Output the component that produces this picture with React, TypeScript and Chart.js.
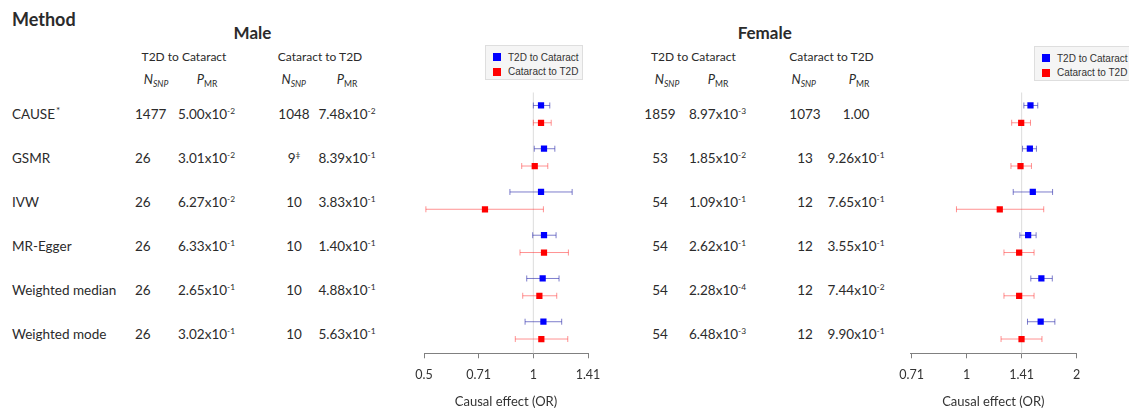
import React, { useEffect, useRef } from 'react';
import { Chart, registerables } from 'chart.js';

Chart.register(...registerables);

const FONT = 'Lato, "Open Sans", sans-serif';
const TEXT = '#2b2b2b';

// ---------- data ----------
const methods = ['CAUSE', 'GSMR', 'IVW', 'MR-Egger', 'Weighted median', 'Weighted mode'];
const methodMarks = ['*', '', '', '', '', ''];

const maleN1 = ['1477', '26', '26', '26', '26', '26'];
const maleP1 = ['5.00x10^-2', '3.01x10^-2', '6.27x10^-2', '6.33x10^-1', '2.65x10^-1', '3.02x10^-1'];
const maleN2 = ['1048', '9^‡', '10', '10', '10', '10'];
const maleP2 = ['7.48x10^-2', '8.39x10^-1', '3.83x10^-1', '1.40x10^-1', '4.88x10^-1', '5.63x10^-1'];

const femaleN1 = ['1859', '53', '54', '54', '54', '54'];
const femaleP1 = ['8.97x10^-3', '1.85x10^-2', '1.09x10^-1', '2.62x10^-1', '2.28x10^-4', '6.48x10^-3'];
const femaleN2 = ['1073', '13', '12', '12', '12', '12'];
const femaleP2 = ['1.00', '9.26x10^-1', '7.65x10^-1', '3.55x10^-1', '7.44x10^-2', '9.90x10^-1'];

const seriesNames = ['T2D to Cataract', 'Cataract to T2D'];

// Male forest values (OR, 95% CI)
const maleBlueEst = [1.05, 1.07, 1.05, 1.07, 1.061, 1.066];
const maleBlueLo = [1.0, 1.006, 0.862, 0.996, 0.959, 0.949];
const maleBlueHi = [1.11, 1.146, 1.279, 1.155, 1.177, 1.197];
const maleRedEst = [1.05, 1.009, 0.736, 1.07, 1.039, 1.052];
const maleRedLo = [1.0, 0.929, 0.506, 0.919, 0.935, 0.892];
const maleRedHi = [1.12, 1.096, 1.066, 1.249, 1.16, 1.244];

// Female forest values
const femaleBlueEst = [1.495, 1.489, 1.517, 1.473, 1.601, 1.594];
const femaleBlueLo = [1.434, 1.422, 1.341, 1.398, 1.498, 1.467];
const femaleBlueHi = [1.565, 1.552, 1.718, 1.549, 1.715, 1.743];
const femaleRedEst = [1.41, 1.404, 1.232, 1.392, 1.392, 1.413];
const femaleRedLo = [1.328, 1.322, 0.938, 1.265, 1.265, 1.242];
const femaleRedHi = [1.495, 1.504, 1.625, 1.529, 1.529, 1.607];

const maleTicks = [0.5, 0.7071, 1, 1.4142];
const femaleTicks = [0.7071, 1, 1.4142, 2];
const maleRef = 1;
const femaleRef = 1.4142;

const axisTitle = 'Causal effect (OR)';

// ---------- helpers ----------
function fmtTick(v: number) {
  return String(Number(v.toFixed(2)));
}

function Sup({ s }: { s: string }) {
  const [m, e] = s.split('^');
  return (
    <>
      {m}
      {e !== undefined && (
        <span style={{ fontSize: '0.62em', position: 'relative', top: '-0.55em' }}>{e}</span>
      )}
    </>
  );
}

type CellProps = { x: number; y: number; align?: 'left' | 'center'; size?: number; bold?: boolean; children: React.ReactNode };
function Cell({ x, y, align = 'left', size = 13.5, bold = false, children }: CellProps) {
  return (
    <div
      style={{
        position: 'absolute',
        left: x,
        top: y,
        transform: align === 'center' ? 'translate(-50%, -50%)' : 'translateY(-50%)',
        fontFamily: FONT,
        fontSize: size,
        fontWeight: bold ? 700 : 400,
        lineHeight: '1.2',
        whiteSpace: 'nowrap',
        color: TEXT,
      }}
    >
      {children}
    </div>
  );
}

const NSNP = () => (
  <>
    <i>N</i>
    <span style={{ fontSize: '0.66em', position: 'relative', top: '0.3em', fontStyle: 'italic' }}>SNP</span>
  </>
);
const PMR = () => (
  <>
    <i>P</i>
    <span style={{ fontSize: '0.66em', position: 'relative', top: '0.3em' }}>MR</span>
  </>
);

const errorBarPlugin = {
  id: 'errorBars',
  beforeDatasetsDraw(chart: any, _args: any, opts: any) {
    const ctx = chart.ctx;
    const xs = chart.scales.x;
    const area = chart.chartArea;
    ctx.save();
    const rx = xs.getPixelForValue(opts.refValue);
    ctx.strokeStyle = '#dcdcdc';
    ctx.lineWidth = 1;
    ctx.beginPath();
    ctx.moveTo(rx, area.top);
    ctx.lineTo(rx, area.bottom);
    ctx.stroke();
    chart.data.datasets.forEach((ds: any, di: number) => {
      const meta = chart.getDatasetMeta(di);
      ctx.strokeStyle = ds.errorColor;
      ctx.lineWidth = 1;
      meta.data.forEach((pt: any, i: number) => {
        const lo = xs.getPixelForValue(ds.lo[i]);
        const hi = xs.getPixelForValue(ds.hi[i]);
        const y = pt.y;
        const c = 3;
        ctx.beginPath();
        ctx.moveTo(lo, y);
        ctx.lineTo(hi, y);
        ctx.moveTo(lo, y - c);
        ctx.lineTo(lo, y + c);
        ctx.moveTo(hi, y - c);
        ctx.lineTo(hi, y + c);
        ctx.stroke();
      });
    });
    ctx.restore();
  },
};

type ForestProps = {
  left: number;
  width: number;
  padLeft: number;
  padRight: number;
  ticks: number[];
  refValue: number;
  blueEst: number[];
  blueLo: number[];
  blueHi: number[];
  redEst: number[];
  redLo: number[];
  redHi: number[];
};

function Forest(p: ForestProps) {
  const ref = useRef<HTMLCanvasElement | null>(null);
  useEffect(() => {
    if (!ref.current) return;
    const mk = (est: number[], lo: number[], hi: number[], color: string, err: string, off: number, label: string) => ({
      label,
      data: est.map((v, i) => ({ x: v, y: i + off })),
      lo,
      hi,
      errorColor: err,
      backgroundColor: color,
      borderColor: color,
      borderWidth: 0,
      pointStyle: 'rect',
      pointRadius: 4.4,
      showLine: false,
    });
    const chart = new Chart(ref.current, {
      type: 'scatter',
      data: {
        datasets: [
          mk(p.blueEst, p.blueLo, p.blueHi, '#0000ff', 'rgba(40,40,170,0.6)', -0.2, seriesNames[0]),
          mk(p.redEst, p.redLo, p.redHi, '#ff0000', 'rgba(255,40,40,0.5)', 0.2, seriesNames[1]),
        ] as any,
      },
      options: {
        animation: false,
        responsive: true,
        maintainAspectRatio: false,
        events: [],
        layout: { padding: { top: 92.5, left: p.padLeft, right: p.padRight, bottom: 0 } },
        plugins: {
          legend: { display: false },
          tooltip: { enabled: false },
          errorBars: { refValue: p.refValue },
        } as any,
        scales: {
          x: {
            type: 'logarithmic',
            min: p.ticks[0],
            max: p.ticks[p.ticks.length - 1],
            afterBuildTicks: (s: any) => {
              s.ticks = p.ticks.map((v) => ({ value: v }));
            },
            grid: { drawOnChartArea: false, drawTicks: true, tickLength: 5, color: '#808080' },
            border: { display: true, color: '#808080', width: 1 },
            ticks: {
              padding: 9.2,
              autoSkip: false,
              maxRotation: 0,
              color: '#333333',
              font: { family: FONT, size: 12.5, lineHeight: 1.2 },
              callback: (v: any) => fmtTick(Number(v)),
            },
            title: {
              display: true,
              text: axisTitle,
              color: '#333333',
              font: { family: FONT, size: 13, lineHeight: 1.2 },
              padding: { top: 2.2, bottom: 1.5 },
            },
          },
          y: {
            type: 'linear',
            display: false,
            reverse: true,
            min: -0.5,
            max: 5.53,
          },
        },
      } as any,
      plugins: [errorBarPlugin as any],
    });
    return () => chart.destroy();
  }, []);
  return (
    <div style={{ position: 'absolute', left: p.left, top: 0, width: p.width, height: 411 }}>
      <canvas ref={ref} />
    </div>
  );
}

function Legend({ left, top, width }: { left: number; top: number; width: number }) {
  const colors = ['#0000ff', '#ff0000'];
  return (
    <div
      style={{
        position: 'absolute',
        left,
        top,
        width,
        height: 35,
        background: '#f5f5f5',
        border: '1px solid #dedede',
        boxSizing: 'border-box',
      }}
    >
      {seriesNames.map((n, i) => (
        <div
          key={n}
          style={{
            position: 'absolute',
            left: 7,
            top: 5 + i * 14.5,
            height: 12,
            display: 'flex',
            alignItems: 'center',
            fontFamily: '"Liberation Sans", Arial, sans-serif',
            fontSize: 10,
            color: '#333',
            whiteSpace: 'nowrap',
          }}
        >
          <span style={{ display: 'inline-block', width: 8, height: 8, background: colors[i], marginRight: 7 }} />
          {n}
        </div>
      ))}
    </div>
  );
}

const rowY = (i: number) => 113.5 + 44 * i;

export default function App() {
  useEffect(() => {
    document.body.style.margin = '0';
  }, []);
  return (
    <div style={{ position: 'absolute', left: 0, top: 0, width: 1129, height: 411, overflow: 'hidden', background: '#fff' }}>
      <Cell x={12} y={20} size={18} bold>Method</Cell>
      <Cell x={252.5} y={33} size={17} bold align="center">Male</Cell>
      <Cell x={764.7} y={33} size={17} bold align="center">Female</Cell>

      <Cell x={184} y={57} size={12} align="center">T2D to Cataract</Cell>
      <Cell x={320} y={57} size={12} align="center">Cataract to T2D</Cell>
      <Cell x={693.3} y={57} size={12} align="center">T2D to Cataract</Cell>
      <Cell x={831.5} y={57} size={12} align="center">Cataract to T2D</Cell>

      <Cell x={156} y={80} size={13} align="center"><NSNP /></Cell>
      <Cell x={207} y={80} size={13} align="center"><PMR /></Cell>
      <Cell x={293.7} y={80} size={13} align="center"><NSNP /></Cell>
      <Cell x={347} y={80} size={13} align="center"><PMR /></Cell>
      <Cell x={667} y={80} size={13} align="center"><NSNP /></Cell>
      <Cell x={718} y={80} size={13} align="center"><PMR /></Cell>
      <Cell x={803.7} y={80} size={13} align="center"><NSNP /></Cell>
      <Cell x={859} y={80} size={13} align="center"><PMR /></Cell>

      {methods.map((m, i) => (
        <React.Fragment key={m}>
          <Cell x={12} y={rowY(i)}>
            {m}
            {methodMarks[i] && (
              <span style={{ fontSize: '0.75em', position: 'relative', top: '-0.4em', marginLeft: 1 }}>{methodMarks[i]}</span>
            )}
          </Cell>
          <Cell x={135} y={rowY(i)}><Sup s={maleN1[i]} /></Cell>
          <Cell x={178} y={rowY(i)}><Sup s={maleP1[i]} /></Cell>
          <Cell x={294} y={rowY(i)} align="center"><Sup s={maleN2[i]} /></Cell>
          <Cell x={318.5} y={rowY(i)}><Sup s={maleP2[i]} /></Cell>
          <Cell x={660} y={rowY(i)} align="center"><Sup s={femaleN1[i]} /></Cell>
          <Cell x={689} y={rowY(i)}><Sup s={femaleP1[i]} /></Cell>
          <Cell x={805} y={rowY(i)} align="center"><Sup s={femaleN2[i]} /></Cell>
          <Cell x={856} y={rowY(i)} align="center"><Sup s={femaleP2[i]} /></Cell>
        </React.Fragment>
      ))}

      <Forest
        left={400}
        width={220}
        padLeft={24}
        padRight={32}
        ticks={maleTicks}
        refValue={maleRef}
        blueEst={maleBlueEst}
        blueLo={maleBlueLo}
        blueHi={maleBlueHi}
        redEst={maleRedEst}
        redLo={maleRedLo}
        redHi={maleRedHi}
      />
      <Forest
        left={880}
        width={249}
        padLeft={30}
        padRight={52.3}
        ticks={femaleTicks}
        refValue={femaleRef}
        blueEst={femaleBlueEst}
        blueLo={femaleBlueLo}
        blueHi={femaleBlueHi}
        redEst={femaleRedEst}
        redLo={femaleRedLo}
        redHi={femaleRedHi}
      />
      <Legend left={485} top={45} width={98} />
      <Legend left={1034} top={46} width={100} />
    </div>
  );
}
